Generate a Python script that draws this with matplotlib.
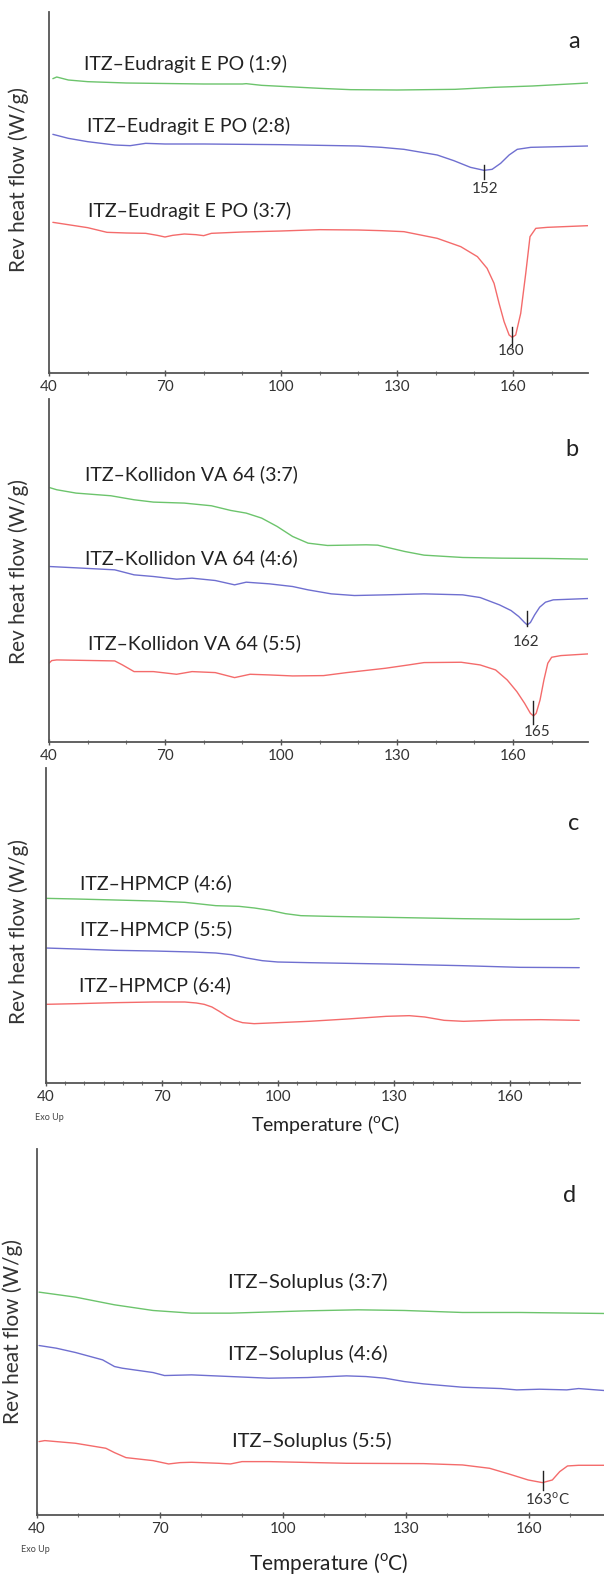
import numpy as np
import matplotlib
matplotlib.use("Agg")
import matplotlib.pyplot as plt
from matplotlib.ticker import MultipleLocator

plt.rcParams['font.family'] = ['Lato', 'DejaVu Sans']
plt.rcParams['mathtext.fontset'] = 'custom'
plt.rcParams['mathtext.rm'] = 'Lato'

GREEN = '#6cc46c'
BLUE = '#6f6fd0'
RED = '#f46b6b'

x_ticks = [40, 70, 100, 130, 160]

# ---------------- panel a : ITZ-Eudragit E PO ----------------
a_green_T = [41, 42, 45, 50, 60, 80, 90, 91, 95, 110, 118, 130, 145, 155, 165, 179.4]
a_green_y = [-2.36, -2.31, -2.40, -2.45, -2.49, -2.52, -2.52, -2.51, -2.56, -2.65, -2.69, -2.70, -2.68, -2.62, -2.58, -2.49]
a_blue_T = [41, 45, 50, 57, 61, 65, 70, 80, 100, 120, 126, 131.8, 140.4, 144.7, 149, 152.5, 154.6, 156.8, 159, 161.1, 164.6, 179.4]
a_blue_y = [-4.03, -4.15, -4.25, -4.35, -4.37, -4.30, -4.32, -4.32, -4.34, -4.38, -4.42, -4.48, -4.65, -4.82, -5.02, -5.11, -5.08, -4.90, -4.65, -4.48, -4.42, -4.38]
a_red_T = [41, 50, 55, 60, 65, 68, 70, 72, 75, 78, 80, 82, 90, 100, 110, 120, 126, 131.8, 140.4, 146.5, 150.8, 153.3, 155.1, 156.4, 157.7, 159, 159.8, 160.7, 162, 163.3, 164.4, 165.9, 168.9, 179.4]
a_red_y = [-6.67, -6.83, -6.97, -6.99, -7.00, -7.06, -7.11, -7.06, -7.02, -7.04, -7.07, -7.00, -6.96, -6.93, -6.89, -6.90, -6.92, -6.95, -7.15, -7.40, -7.70, -8.05, -8.50, -9.10, -9.65, -10.05, -10.12, -10.05, -9.40, -8.20, -7.10, -6.85, -6.82, -6.77]
a_labels = ['ITZ\u2013Eudragit E PO (1:9)', 'ITZ\u2013Eudragit E PO (2:8)', 'ITZ\u2013Eudragit E PO (3:7)']
a_peaks = [152.5, 159.8]
a_peak_text = ['152', '160']

# ---------------- panel b : ITZ-Kollidon VA 64 ----------------
b_green_T = [40, 42, 47, 56, 62, 67, 75, 82, 87, 91, 95, 99, 103, 107, 112, 122, 125, 132, 137, 147, 157, 169, 179.4]
b_green_y = [-3.53, -3.60, -3.70, -3.78, -3.90, -3.97, -4.00, -4.08, -4.22, -4.30, -4.45, -4.70, -5.00, -5.20, -5.27, -5.25, -5.26, -5.45, -5.56, -5.63, -5.65, -5.66, -5.68]
b_blue_T = [40, 47, 57, 62, 67, 73, 77, 83, 88, 91, 97, 103, 107, 113, 119, 127, 137, 147, 151.5, 156.5, 159.5, 161.5, 163, 163.7, 164.5, 165.6, 166.9, 168.4, 170.4, 179.4]
b_blue_y = [-5.90, -5.94, -6.00, -6.15, -6.20, -6.28, -6.25, -6.32, -6.45, -6.37, -6.42, -6.50, -6.60, -6.72, -6.77, -6.75, -6.72, -6.75, -6.83, -7.05, -7.22, -7.40, -7.58, -7.65, -7.58, -7.35, -7.12, -6.97, -6.90, -6.86]
b_red_T = [40, 40.7, 42, 57, 59, 62, 67, 73, 77, 83, 88, 92, 97, 103, 111, 117, 127, 133, 137, 146.6, 151.5, 155.5, 158.5, 161, 163, 164.5, 165.3, 166, 167, 168, 169, 170, 172.4, 179.4]
b_red_y = [-8.80, -8.72, -8.70, -8.73, -8.85, -9.05, -9.05, -9.13, -9.05, -9.08, -9.23, -9.13, -9.15, -9.18, -9.17, -9.08, -8.95, -8.85, -8.78, -8.77, -8.85, -9.00, -9.30, -9.65, -10.00, -10.30, -10.38, -10.30, -9.90, -9.30, -8.80, -8.62, -8.57, -8.52]
b_labels = ['ITZ\u2013Kollidon VA 64 (3:7)', 'ITZ\u2013Kollidon VA 64 (4:6)', 'ITZ\u2013Kollidon VA 64 (5:5)']
b_peaks = [163.7, 165.3]
b_peak_text = ['162', '165']

# ---------------- panel c : ITZ-HPMCP ----------------
c_green_T = [40, 48, 58, 68, 76, 80, 84, 90, 94, 98, 102, 106, 113, 128, 147.6, 162.5, 175.4, 177.9]
c_green_y = [-5.96, -5.98, -6.01, -6.04, -6.08, -6.13, -6.18, -6.20, -6.25, -6.32, -6.42, -6.48, -6.50, -6.53, -6.57, -6.59, -6.59, -6.57]
c_blue_T = [40, 48, 58, 68, 78, 84, 88, 92, 96, 100, 108, 128, 147.6, 162.5, 177.9]
c_blue_y = [-7.45, -7.48, -7.52, -7.54, -7.57, -7.60, -7.65, -7.75, -7.83, -7.87, -7.89, -7.93, -7.98, -8.03, -8.04]
c_red_T = [40, 48, 58, 68, 76, 79, 81, 83, 84.9, 86.9, 88.9, 90.9, 93.9, 98, 108, 118, 128, 134, 138, 143, 148, 158, 168, 177.9]
c_red_y = [-9.14, -9.12, -9.09, -9.07, -9.07, -9.10, -9.14, -9.22, -9.35, -9.50, -9.62, -9.69, -9.72, -9.70, -9.65, -9.58, -9.50, -9.48, -9.52, -9.62, -9.65, -9.61, -9.60, -9.62]
c_labels = ['ITZ\u2013HPMCP (4:6)', 'ITZ\u2013HPMCP (5:5)', 'ITZ\u2013HPMCP (6:4)']

# ---------------- panel d : ITZ-Soluplus ----------------
d_green_T = [40.5, 49.4, 58.9, 68.3, 77.7, 87.2, 106, 118.3, 129.6, 143.8, 157.9, 178.5]
d_green_y = [-5.77, -5.92, -6.15, -6.32, -6.40, -6.40, -6.33, -6.30, -6.32, -6.38, -6.38, -6.41]
d_blue_T = [40.5, 44.7, 49.4, 56, 58.9, 60.8, 68.3, 71.1, 77.7, 87.2, 96.6, 106, 115.5, 120.2, 124.9, 129.6, 134.3, 143.8, 153.2, 157, 162.6, 169.2, 172.1, 178.5]
d_blue_y = [-7.37, -7.45, -7.58, -7.80, -8.00, -8.05, -8.18, -8.27, -8.25, -8.30, -8.35, -8.33, -8.28, -8.30, -8.35, -8.45, -8.52, -8.62, -8.66, -8.70, -8.68, -8.70, -8.66, -8.72]
d_red_T = [40.5, 41.9, 49.4, 56.8, 58.9, 61.7, 68.3, 72.1, 74.9, 77.7, 84.3, 87.2, 90, 96.6, 115.5, 134.3, 143.8, 150.4, 155.1, 159.8, 163.3, 165.7, 167.5, 169.4, 172.1, 178.5]
d_red_y = [-10.25, -10.22, -10.30, -10.45, -10.58, -10.73, -10.82, -10.92, -10.88, -10.87, -10.90, -10.92, -10.85, -10.85, -10.90, -10.91, -10.95, -11.05, -11.22, -11.40, -11.48, -11.40, -11.15, -10.98, -10.96, -10.96]
d_labels = ['ITZ\u2013Soluplus (3:7)', 'ITZ\u2013Soluplus (4:6)', 'ITZ\u2013Soluplus (5:5)']
d_peaks = [163.3]
d_peak_text = [r'163$^{\rm o}$C']

W, H = 604, 1575
fig = plt.figure(figsize=(W / 100, H / 100), dpi=100)


def add_axes(left, right, top, bottom):
    return fig.add_axes([left / W, 1 - bottom / H, (right - left) / W, (bottom - top) / H])


def style(ax, xlim, ylim, minor=10):
    ax.set_xlim(*xlim)
    ax.set_ylim(*ylim)
    for s in ['top', 'right']:
        ax.spines[s].set_visible(False)
    for s in ['left', 'bottom']:
        ax.spines[s].set_color('#555555')
        ax.spines[s].set_linewidth(1.3)
    ax.set_yticks([])
    ax.set_xticks(x_ticks)
    ax.xaxis.set_minor_locator(MultipleLocator(minor))
    ax.tick_params(axis='x', which='major', direction='inout', length=4, width=1.0,
                   color='#555555', labelsize=11, pad=3, labelcolor='#333333')
    ax.tick_params(axis='x', which='minor', direction='inout', length=3, width=0.8, color='#777777')


def curves(ax, data):
    for (T, y), c in zip(data, [GREEN, BLUE, RED]):
        ax.plot(T, y, color=c, lw=1.0, solid_joinstyle='round', solid_capstyle='round')


def peak(ax, T, y, t, up, down, text, ty, tx=None, fs=11):
    yp = np.interp(t, T, y)
    ax.plot([t, t], [yp - down, yp + up], color='#222222', lw=1.0)
    ax.text(t if tx is None else tx, ty, text, ha='center', va='center', fontsize=fs, color='#333333')


def ylab(ax, xpx, ypx):
    ax.set_ylabel('Rev heat flow (W/g)', fontsize=15, color='#333333')
    ax.yaxis.set_label_coords(xpx / W, 1 - ypx / H, transform=fig.transFigure)


LFS = 14

# panel a
ax = add_axes(49, 588, 12, 373)
style(ax, (40, 179.4), (-11.19, -0.36))
curves(ax, [(a_green_T, a_green_y), (a_blue_T, a_blue_y), (a_red_T, a_red_y)])
for lab, x, y in zip(a_labels, [49, 49.8, 50.1], [-1.93, -3.78, -6.32]):
    ax.text(x, y, lab, fontsize=LFS, ha='left', va='center', color='#222222')
ax.text(175.8, -1.25, 'a', fontsize=17, ha='center', va='center', color='#222222')
peak(ax, a_blue_T, a_blue_y, a_peaks[0], 0.16, 0.27, a_peak_text[0], -5.67, tx=152.7)
peak(ax, a_red_T, a_red_y, a_peaks[1], 0.3, 0.3, a_peak_text[1], -10.52, tx=159.5)
ylab(ax, 29, 180)

# panel b
ax = add_axes(49, 588, 399, 742)
style(ax, (40, 179.4), (-11.16, -0.88))
curves(ax, [(b_green_T, b_green_y), (b_blue_T, b_blue_y), (b_red_T, b_red_y)])
for lab, x, y in zip(b_labels, [49.4, 49.4, 50.0], [-3.12, -5.65, -8.2]):
    ax.text(x, y, lab, fontsize=LFS, ha='left', va='center', color='#222222')
ax.text(175.3, -2.38, 'b', fontsize=17, ha='center', va='center', color='#222222')
peak(ax, b_blue_T, b_blue_y, b_peaks[0], 0.43, 0.03, b_peak_text[0], -8.15, tx=163.3)
peak(ax, b_red_T, b_red_y, b_peaks[1], 0.45, 0.24, b_peak_text[1], -10.86, tx=166.2)
ylab(ax, 29, 572)

# panel c
ax = add_axes(45.5, 580, 768, 1083)
style(ax, (40, 178.1), (-11.5, -2.05), minor=5)
curves(ax, [(c_green_T, c_green_y), (c_blue_T, c_blue_y), (c_red_T, c_red_y)])
for lab, x, y in zip(c_labels, [48.9, 48.9, 48.6], [-5.51, -6.90, -8.57]):
    ax.text(x, y, lab, fontsize=LFS, ha='left', va='center', color='#222222')
ax.text(176.4, -3.72, 'c', fontsize=17, ha='center', va='center', color='#222222')
ylab(ax, 29, 932)
fig.text(35 / W, 1 - 1118 / H, 'Exo Up', fontsize=6.5, ha='left', va='center', color='#444444')
fig.text(326 / W, 1 - 1124 / H, r'Temperature ($^{\rm o}$C)', fontsize=14, ha='center', va='center', color='#222222')

# panel d
ax = add_axes(37, 604, 1149, 1515)
style(ax, (40, 178.3), (-12.45, -1.48))
curves(ax, [(d_green_T, d_green_y), (d_blue_T, d_blue_y), (d_red_T, d_red_y)])
for lab, x, y in zip(d_labels, [106, 106, 107], [-5.48, -7.62, -10.22]):
    ax.text(x, y, lab, fontsize=LFS + 0.5, ha='center', va='center', color='#222222')
ax.text(170, -2.88, 'd', fontsize=17, ha='center', va='center', color='#222222')
peak(ax, d_red_T, d_red_y, d_peaks[0], 0.35, 0.22, d_peak_text[0], -11.97, tx=164.5)
ylab(ax, 23, 1331)
fig.text(21 / W, 1 - 1550 / H, 'Exo Up', fontsize=6.5, ha='left', va='center', color='#444444')
fig.text(329 / W, 1 - 1563 / H, r'Temperature ($^{\rm o}$C)', fontsize=15, ha='center', va='center', color='#222222')

fig.savefig('out.png', dpi=100)
